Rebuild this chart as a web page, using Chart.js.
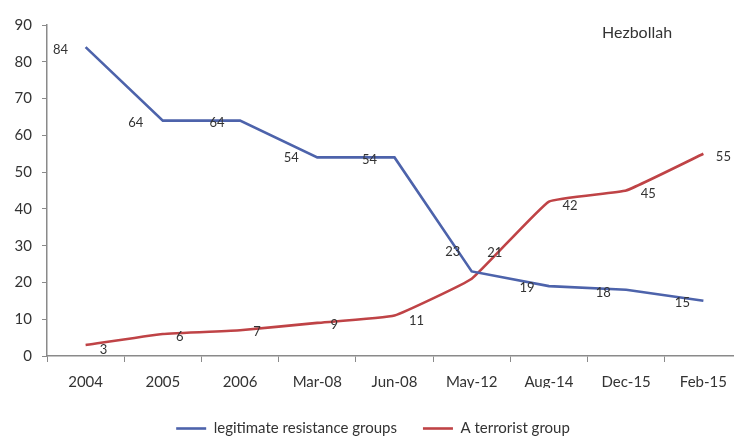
<!DOCTYPE html>
<html>
<head>
<meta charset="utf-8">
<script src="https://cdn.jsdelivr.net/npm/chart.js@4/dist/chart.umd.min.js"></script>
<style>
  html, body { margin: 0; padding: 0; background: #fff; overflow: hidden; }
  #wrap { position: relative; width: 742px; height: 439px; }
</style>
</head>
<body>
<div id="wrap"><canvas id="c"></canvas></div>
<script>
// ---- data ----
const categories = ['2004', '2005', '2006', 'Mar-08', 'Jun-08', 'May-12', 'Aug-14', 'Dec-15', 'Feb-15'];
const legitimateResistance = [84, 64, 64, 54, 54, 23, 19, 18, 15];
const terroristGroup = [3, 6, 7, 9, 11, 21, 42, 45, 55];
const yTicks = [0, 10, 20, 30, 40, 50, 60, 70, 80, 90];
const seriesNames = ['legitimate resistance groups', 'A terrorist group'];
const chartTitle = 'Hezbollah';

// ---- styles (label offsets relative to each point) ----
const blueLabelOffsets = [[-25, 3], [-27, 2], [-23, 2], [-26, 0], [-25, 2], [-19, -20], [-22, 2], [-23, 3], [-21, 2]];
const redLabelOffsets = [[18, 5], [17, 3], [17, 2], [17, 2], [22, 5], [23, -26], [21, 4], [22, 3], [20, 3]];

const FONT = 'Lato, "Open Sans", sans-serif';
const TEXT = '#333333';
const AXIS = '#8a8a8a';

const dataLabels = {
  id: 'dataLabels',
  afterDatasetsDraw(chart) {
    const ctx = chart.ctx;
    ctx.save();
    ctx.font = '13px ' + FONT;
    ctx.fillStyle = TEXT;
    ctx.textAlign = 'center';
    ctx.textBaseline = 'middle';
    chart.data.datasets.forEach((ds, di) => {
      const meta = chart.getDatasetMeta(di);
      const offs = ds.labelOffsets;
      meta.data.forEach((pt, i) => {
        const o = offs[i];
        ctx.fillText(String(ds.data[i]), pt.x + o[0], pt.y + o[1]);
      });
    });
    ctx.restore();
  }
};

const cornerTitle = {
  id: 'cornerTitle',
  afterDraw(chart) {
    const ctx = chart.ctx;
    ctx.save();
    ctx.font = '16px ' + FONT;
    ctx.fillStyle = TEXT;
    ctx.textAlign = 'left';
    ctx.textBaseline = 'middle';
    ctx.fillText(chartTitle, 602, 33);
    ctx.restore();
  }
};

const legendShift = {
  id: 'legendShift',
  afterLayout(chart) {
    const lg = chart.legend;
    if (!lg) return;
    lg.left += 2; lg.right += 2;
    lg.top += 7; lg.bottom += 7;
  }
};

new Chart(document.getElementById('c'), {
  type: 'line',
  data: {
    labels: categories,
    datasets: [
      {
        label: seriesNames[0],
        data: legitimateResistance,
        borderColor: '#4d63ab',
        backgroundColor: '#4d63ab',
        borderWidth: 2.6,
        pointRadius: 0,
        tension: 0,
        labelOffsets: blueLabelOffsets
      },
      {
        label: seriesNames[1],
        data: terroristGroup,
        borderColor: '#bf4346',
        backgroundColor: '#bf4346',
        borderWidth: 2.6,
        pointRadius: 0,
        tension: 0.1,
        labelOffsets: redLabelOffsets
      }
    ]
  },
  options: {
    responsive: true,
    maintainAspectRatio: false,
    animation: false,
    layout: { padding: { top: 25, left: 0, right: 0, bottom: 0 } },
    plugins: {
      tooltip: { enabled: false },
      title: { display: false },
      legend: {
        position: 'bottom',
        labels: {
          usePointStyle: true,
          pointStyle: 'line',
          pointStyleWidth: 30,
          padding: 26,
          color: TEXT,
          font: { family: FONT, size: 15 }
        }
      }
    },
    scales: {
      x: {
        type: 'category',
        offset: true,
        grid: { offset: true, drawOnChartArea: false, drawTicks: true, tickLength: 6, color: AXIS },
        border: { display: true, color: AXIS, width: 1.5 },
        ticks: { color: TEXT, font: { family: FONT, size: 15 }, padding: 11, maxRotation: 0, autoSkip: false },
        afterFit(scale) { scale.height = 32; }
      },
      y: {
        min: 0,
        max: 90,
        afterBuildTicks(scale) { scale.ticks = yTicks.map(v => ({ value: v })); },
        grid: { drawOnChartArea: false, drawTicks: true, tickLength: 5, color: AXIS },
        border: { display: true, color: AXIS, width: 1.5 },
        ticks: { color: TEXT, font: { family: FONT, size: 15 }, padding: 10 },
        afterFit(scale) { scale.width = 47; }
      }
    }
  },
  plugins: [dataLabels, cornerTitle, legendShift]
});
</script>
</body>
</html>
